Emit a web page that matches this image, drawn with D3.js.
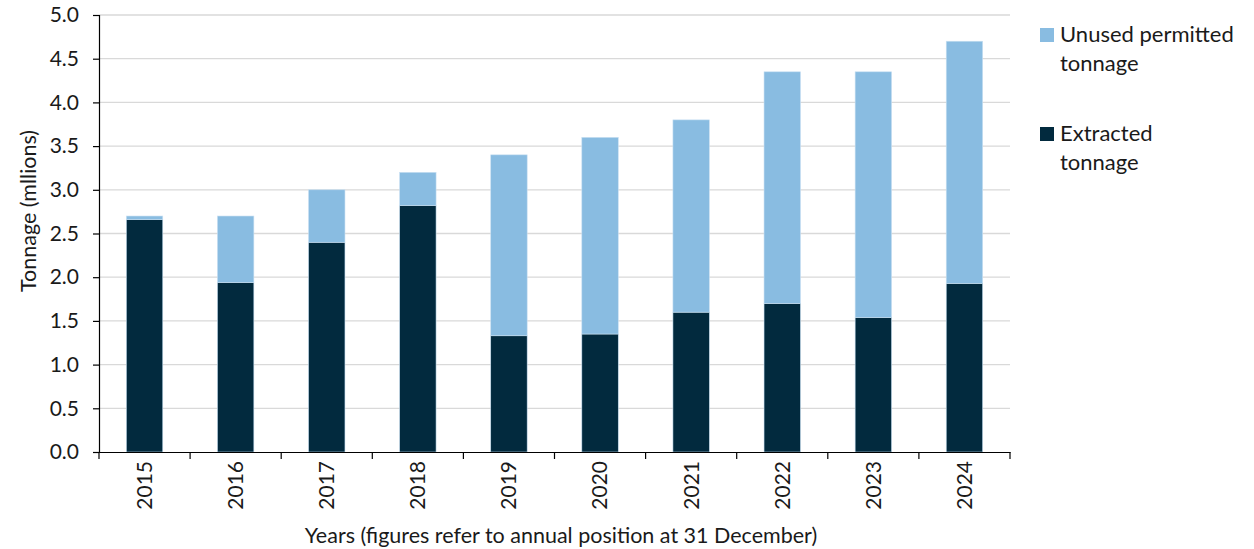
<!DOCTYPE html>
<html>
<head>
<meta charset="utf-8">
<script src="https://cdn.jsdelivr.net/npm/d3@7"></script>
<style>
  body { margin: 0; background: #fff; }
  svg text { font-family: Lato, "Open Sans", sans-serif; fill: #1a1a1a; }
</style>
</head>
<body>
<svg id="chart" width="1254" height="549"></svg>
<script>
// data
var years = ["2015", "2016", "2017", "2018", "2019", "2020", "2021", "2022", "2023", "2024"];
var extracted = [2.66, 1.94, 2.40, 2.82, 1.33, 1.35, 1.60, 1.70, 1.54, 1.93];
var unused = [0.04, 0.76, 0.60, 0.38, 2.07, 2.25, 2.20, 2.65, 2.81, 2.77];
var yTicks = [0, 0.5, 1, 1.5, 2, 2.5, 3, 3.5, 4, 4.5, 5];

var darkBlue = "#022a3e",
    lightBlue = "#89bce1";

var svg = d3.select("#chart");

var plotLeft = 99, plotRight = 1010, plotTop = 15, plotBottom = 452;

var rows = years.map(function (y, i) {
    return {year: y, extracted: extracted[i], unused: unused[i]};
});

var stack = d3.stack().keys(["extracted", "unused"]);
var layers = stack(rows);

var xScale = d3.scaleBand()
    .domain(years)
    .range([plotLeft, plotRight])
    .paddingInner(0.6)
    .paddingOuter(0.3);

var yScale = d3.scaleLinear()
    .domain([0, 5])
    .range([plotBottom, plotTop]);

// gridlines
svg.append("g")
    .selectAll("line")
    .data(yTicks.slice(1))
    .enter()
    .append("line")
    .attr("x1", plotLeft)
    .attr("x2", plotRight)
    .attr("y1", function (d) { return yScale(d); })
    .attr("y2", function (d) { return yScale(d); })
    .attr("stroke", "#d9d9d9")
    .attr("stroke-width", 1.3);

// bars
var colors = {extracted: darkBlue, unused: lightBlue};

svg.append("g")
    .selectAll("g")
    .data(layers)
    .enter()
    .append("g")
    .attr("fill", function (d) { return colors[d.key]; })
    .selectAll("rect")
    .data(function (d) { return d; })
    .enter()
    .append("rect")
    .attr("x", function (d) { return xScale(d.data.year); })
    .attr("width", xScale.bandwidth())
    .attr("y", function (d) { return yScale(d[1]); })
    .attr("height", function (d) { return yScale(d[0]) - yScale(d[1]); })
    .attr("stroke", "#c9e0f2")
    .attr("stroke-width", 0.6);

// y axis
var yAxis = d3.axisLeft(yScale)
    .tickValues(yTicks)
    .tickFormat(d3.format(".1f"))
    .tickSize(6)
    .tickPadding(14);

var yG = svg.append("g")
    .attr("transform", "translate(" + plotLeft + ",0)")
    .call(yAxis);
yG.select(".domain").attr("stroke", "#000").attr("stroke-width", 1.2);
yG.selectAll(".tick line").attr("stroke", "#000").attr("stroke-width", 1.2);
yG.selectAll("text")
    .style("font-family", "Lato, sans-serif")
    .attr("font-size", 21)
    .attr("fill", "#1a1a1a");

// x axis with ticks on category boundaries
var xAxis = d3.axisBottom(xScale).tickSize(0).tickSizeOuter(0);
var xG = svg.append("g")
    .attr("transform", "translate(0," + plotBottom + ")")
    .call(xAxis);
xG.select(".domain").attr("stroke", "#000").attr("stroke-width", 1.2);
xG.selectAll("text")
    .style("font-family", "Lato, sans-serif")
    .attr("font-size", 21)
    .attr("fill", "#1a1a1a")
    .attr("transform", "rotate(-90)")
    .attr("x", -9)
    .attr("y", 0)
    .attr("dy", "0.35em")
    .style("text-anchor", "end");

var step = xScale.step();
var bounds = d3.range(years.length + 1).map(function (i) {
    return xScale(years[0]) - xScale.paddingOuter() * step + i * step;
});
bounds[0] = plotLeft;
xG.append("g")
    .selectAll("line")
    .data(bounds)
    .enter()
    .append("line")
    .attr("x1", function (d) { return d; })
    .attr("x2", function (d) { return d; })
    .attr("y1", 0)
    .attr("y2", 7)
    .attr("stroke", "#000")
    .attr("stroke-width", 1.2);

// axis titles
svg.append("text")
    .attr("transform", "translate(36,211) rotate(-90)")
    .attr("text-anchor", "middle")
    .attr("font-size", 21.5)
    .text("Tonnage (mllions)");

svg.append("text")
    .attr("x", 561)
    .attr("y", 543)
    .attr("text-anchor", "middle")
    .attr("font-size", 21.5)
    .text("Years (figures refer to annual position at 31 December)");

// legend
var legendItems = [
    {lines: ["Unused permitted", "tonnage"], color: lightBlue, y: 28},
    {lines: ["Extracted", "tonnage"], color: darkBlue, y: 127}
];

var legend = svg.append("g");
legendItems.forEach(function (item) {
    legend.append("rect")
        .attr("x", 1040)
        .attr("y", item.y)
        .attr("width", 14)
        .attr("height", 14)
        .attr("fill", item.color);
    item.lines.forEach(function (line, j) {
        legend.append("text")
            .attr("x", 1060)
            .attr("y", item.y + 14 + j * 29)
            .attr("font-size", 22)
            .text(line);
    });
});
</script>
</body>
</html>
